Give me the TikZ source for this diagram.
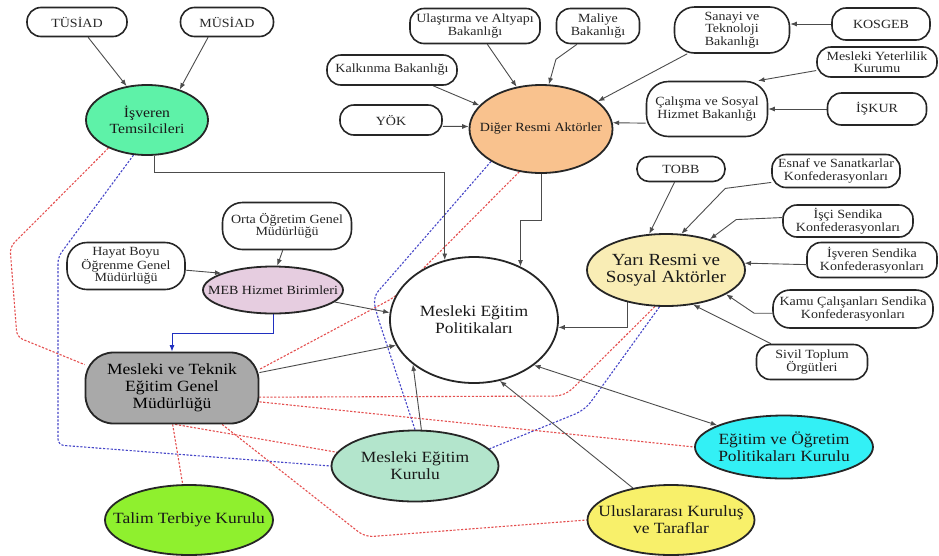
\documentclass[tikz,border=0pt]{standalone}
\usepackage{fontspec}
\setmainfont[FakeStretch=1.12]{Liberation Serif}
\usetikzlibrary{arrows.meta,shapes.geometric,backgrounds}
\definecolor{isvc}{HTML}{5EF2A8}
\definecolor{digc}{HTML}{F9C28E}
\definecolor{yaric}{HTML}{F9EDB5}
\definecolor{mebc}{HTML}{E6CDE0}
\definecolor{mtc}{HTML}{A9A9A9}
\definecolor{mekc}{HTML}{B3E5CC}
\definecolor{eopc}{HTML}{33F0F5}
\definecolor{uluc}{HTML}{F8F06A}
\definecolor{ttkc}{HTML}{8FF02E}
\definecolor{dotred}{HTML}{E45050}
\definecolor{dotblue}{HTML}{4646C8}
\definecolor{mebblue}{HTML}{2030C0}
\begin{document}
\begin{tikzpicture}[x=1pt,y=-1pt,
  wbox/.style={draw=black!85,line width=1.6pt,fill=white,rounded corners=14pt,align=center,inner sep=0pt,
    font=\fontsize{12.5}{12.5}\selectfont,text=black!85},
  ell/.style={draw=black!85,line width=1.8pt,ellipse,align=center,inner sep=-100pt,text=black!90},
  big/.style={font=\fontsize{15.6}{17}\selectfont},
  small/.style={font=\fontsize{12.5}{12.5}\selectfont},
  arr/.style={draw=black!70,line width=0.9pt,-{Latex[length=6.5pt,width=5pt]}},
  rdot/.style={draw=dotred,line width=1.1pt,dash pattern=on 2.2pt off 1.6pt},
  bdot/.style={draw=dotblue,line width=1.1pt,dash pattern=on 2.2pt off 1.6pt},
]
\useasboundingbox (0,0) rectangle (939,555);

% ---- nodes ----
\node[wbox,minimum width=100pt,minimum height=29pt] (tus) at (77,22) {TÜSİAD};
\node[wbox,minimum width=93pt,minimum height=29pt] (mus) at (227,22) {MÜSİAD};
\node[ell,fill=isvc,minimum width=122pt,minimum height=70pt,font=\fontsize{14}{16}\selectfont] (isv) at (147,120) {İşveren\\Temsilcileri};
\node[wbox,minimum width=130pt,minimum height=35pt] (ula) at (475,26) {Ulaştırma ve Altyapı\\Bakanlığı};
\node[wbox,minimum width=83pt,minimum height=35pt] (mal) at (598,26) {Maliye\\Bakanlığı};
\node[wbox,rounded corners=20pt,minimum width=115pt,minimum height=46pt] (san) at (732,30) {Sanayi ve\\Teknoloji\\Bakanlığı};
\node[wbox,minimum width=98pt,minimum height=32pt] (kos) at (881,24) {KOSGEB};
\node[wbox,minimum width=120pt,minimum height=30pt] (myk) at (877,62) {Mesleki Yeterlilik\\Kurumu};
\node[wbox,rounded corners=22pt,minimum width=121pt,minimum height=55pt] (cal) at (707,109) {Çalışma ve Sosyal\\Hizmet Bakanlığı};
\node[wbox,minimum width=99pt,minimum height=32pt] (isk) at (877,109) {İŞKUR};
\node[wbox,minimum width=130pt,minimum height=30pt] (kal) at (392,70) {Kalkınma Bakanlığı};
\node[wbox,minimum width=102pt,minimum height=30pt] (yok) at (391,120) {YÖK};
\node[ell,fill=digc,small,minimum width=143pt,minimum height=88pt] (dig) at (541,129) {Diğer Resmi Aktörler};
\node[wbox,rounded corners=12pt,minimum width=88pt,minimum height=25pt] (tobb) at (681,169) {TOBB};
\node[wbox,minimum width=128pt,minimum height=33pt] (esn) at (836,171) {Esnaf ve Sanatkarlar\\Konfederasyonları};
\node[wbox,minimum width=130pt,minimum height=32pt] (isc) at (848,221) {İşçi Sendika\\Konfederasyonları};
\node[wbox,minimum width=130pt,minimum height=35pt] (isvs) at (872,260) {İşveren Sendika\\Konfederasyonları};
\node[wbox,rounded corners=17pt,minimum width=160pt,minimum height=38pt] (kamu) at (853,309) {Kamu Çalışanları Sendika\\Konfederasyonları};
\node[wbox,minimum width=111pt,minimum height=35pt] (siv) at (812,362) {Sivil Toplum\\Örgütleri};
\node[ell,fill=yaric,minimum width=158pt,minimum height=72pt,font=\fontsize{17}{17.5}\selectfont] (yari) at (666,270) {Yarı Resmi ve\\Sosyal Aktörler};
\node[wbox,rounded corners=20pt,minimum width=129pt,minimum height=47pt] (orta) at (287,226) {Orta Öğretim Genel\\Müdürlüğü};
\node[wbox,rounded corners=20pt,minimum width=118pt,minimum height=47pt] (hay) at (126,266) {Hayat Boyu\\Öğrenme Genel\\Müdürlüğü};
\node[ell,fill=mebc,small,minimum width=140pt,minimum height=47pt] (meb) at (273,290) {MEB Hizmet Birimleri};
\node[ell,fill=white,big,minimum width=168pt,minimum height=126pt] (mep) at (474,320) {Mesleki Eğitim\\Politikaları};
\node[draw=black!85,line width=1.8pt,fill=mtc,rounded corners=28pt,align=center,inner sep=0pt,big,
  minimum width=173pt,minimum height=71pt] (mtegm) at (172,388) {Mesleki ve Teknik\\Eğitim Genel\\Müdürlüğü};
\node[ell,fill=mekc,big,minimum width=167pt,minimum height=71pt] (mek) at (415,466) {Mesleki Eğitim\\Kurulu};
\node[ell,fill=eopc,big,minimum width=178pt,minimum height=63pt] (eop) at (784,447) {Eğitim ve Öğretim\\Politikaları Kurulu};
\node[ell,fill=uluc,big,minimum width=167pt,minimum height=70pt] (ulu) at (671,520) {Uluslararası Kuruluş\\ve Taraflar};
\node[ell,fill=ttkc,big,minimum width=168pt,minimum height=70pt] (ttk) at (189,520) {Talim Terbiye Kurulu};

% ---- connectors ----
\begin{pgfonlayer}{background}
% dotted relations
\draw[rdot,rounded corners=6pt] (isv.216) -- (10,247) -- (17,337) -- (mtegm.165);
\draw[bdot,rounded corners=6pt] (isv.-111) -- (58,257) -- (58,445) -- (mek.180);
\draw[rdot,rounded corners=8pt] (dig.-117) -- (395,297) -- (mtegm.12);
\draw[bdot,rounded corners=8pt] (dig.-147) -- (388,280) -- (373,297) -- (377,315) -- (mek.north);
\draw[rdot,rounded corners=10pt] (yari.-107) -- (565,396) -- (mtegm.-6.6);
\draw[bdot,rounded corners=10pt] (yari.-100) -- (585,410) -- (mek.13);
\draw[rdot] (mtegm.-9) -- (eop.180);
\draw[rdot] (mtegm.-85) -- (mek.170);
\draw[rdot,rounded corners=8pt] (mtegm.-36.5) -- (365,537) -- (ulu.180);
\draw[rdot] (mtegm.-89) -- (ttk.100);

% arrows
\draw[arr] (tus.-54) -- (isv.121);
\draw[arr] (mus.219) -- (isv.43);
\draw[arr] (isv.-78) -- ++(0,17) -| (mep.116);
\draw[arr] (dig.south) -- ++(0,47) -| (mep.49);
\draw[arr] (ula.-56) -- (dig.120);
\draw[arr] (mal.221) -- ++(-21,15) -- (dig.80);
\draw[arr] (san.208) -- (dig.26);
\draw[arr] (kal.-21) -- (dig.159);
\draw[arr] (yok.-7) -- (dig.178);
\draw[arr] (cal.193) -- (dig.5);
\draw[arr] (kos.west) -- (kos.west -| san.east);
\draw[arr] (myk.188) -- (cal.29);
\draw[arr] (isk) -- (cal);
\draw[arr] (tobb.244) -- (yari.115);
\draw[arr] (esn.190) -- ++(-46,6) -- (yari.67);
\draw[arr] (isc.177) -- ++(-46,2) -- (yari.35);
\draw[arr] (isvs.184) -- (yari.5);
\draw[arr] (kamu.183) -- ++(-18,0) -- (yari.-22);
\draw[arr] (siv.156) -- (yari.-52);
\draw[arr] (yari.-140) |- (mep.-5.5);
\draw[arr] (orta.-100) -- (meb.80);
\draw[arr] (hay.-4) -- (meb.162);
\draw[arr] (meb.-11) -- (mep.175);
\draw[arr,draw=mebblue] (meb.south) -- ++(0,19) -| (mtegm.north);
\draw[arr] (mtegm.10.5) -- (mep.198);
\draw[arr] (mek.80) -- (mep.216);
\draw[arr] (ulu.140) -- (mep.-67);
\draw[draw=black!70,line width=0.9pt,{Latex[length=6.5pt,width=5pt]}-{Latex[length=6.5pt,width=5pt]}] (mep.-37) -- (eop.162);
\end{pgfonlayer}
\end{tikzpicture}
\end{document}
